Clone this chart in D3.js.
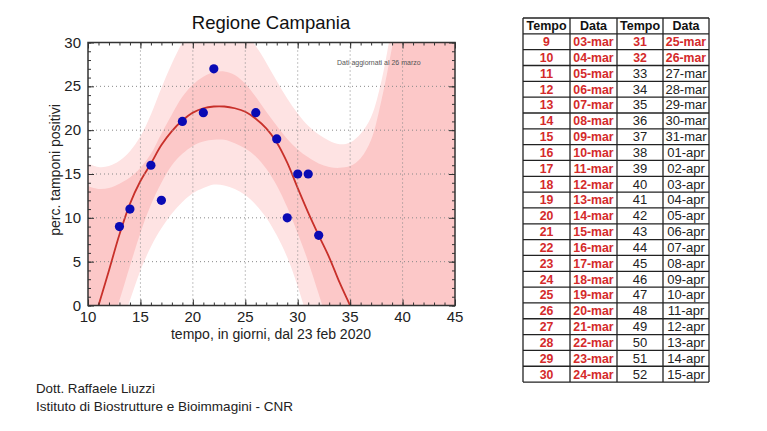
<!DOCTYPE html>
<html>
<head>
<meta charset="utf-8">
<script src="https://cdn.jsdelivr.net/npm/d3@7.9.0/dist/d3.min.js"></script>
<style>
  body { margin: 0; background: #fff; }
  svg { display: block; font-family: 'Liberation Sans', Arial, sans-serif; }
</style>
</head>
<body>
<div id="chart"></div>
<script>
// dati osservati
const giorni = [13, 14, 16, 17, 19, 21, 22, 26, 28, 29, 30, 31, 32];
const percPositivi = [9, 11, 16, 12, 21, 22, 27, 22, 19, 10, 15, 15, 8];

// curva di fit
const fitX = [11, 12, 13, 14, 15, 16, 17, 18, 19, 20, 21, 22, 23, 24, 25, 26, 27, 28, 29, 30, 31, 32, 33, 34, 35];
const fitY = [0, 4, 8.1, 11.6, 14.2, 16.2, 18.3, 19.9, 21.1, 22, 22.5, 22.7, 22.7, 22.5, 22.1, 21.3, 20.2, 18.6, 16.3, 13.4, 10.6, 8, 5.5, 2.6, 0];

// bande di confidenza
const bandX = d3.range(10, 46);
const outerUp = [16.2, 15.8, 15.9, 16.5, 17.6, 19.3, 21.8, 24.8, 27.6, 30, 31.8, 32.8, 33.1, 32.9, 32.2, 31, 29.6, 27.7, 25.6, 23.6, 21.9, 20.5, 19.5, 18.8, 18.4, 18.6, 19.6, 21.5, 25.7, 32, 38, 46, 55, 65, 76, 88];
const innerUp = [13.6, 13.3, 13.4, 13.9, 14.6, 15.7, 17.3, 19.6, 21.8, 23.8, 25.2, 26.1, 26.6, 26.7, 26.3, 25.3, 23.8, 22.1, 20.5, 19, 17.8, 16.9, 16.2, 15.8, 15.7, 15.9, 16.8, 18.9, 23.5, 29.5, 36, 43, 51, 60, 70, 81];
const innerLow = [-9, -6, -2.8, 0.6, 4.5, 8.3, 11.5, 14, 16, 17.3, 18.2, 18.7, 18.9, 18.9, 18.5, 17.9, 17, 15.6, 13.7, 11.2, 8.2, 5, 1.3, -2.5, -7, -12, -17, -23, -29, -35, -42, -49, -56, -64, -72, -80];
const outerLow = [-16, -11, -6.5, -2.8, 0.6, 4, 6.7, 8.8, 10.5, 11.8, 12.8, 13.4, 13.8, 13.7, 13.3, 12.6, 11.5, 10, 8, 5.5, 2.2, -1.8, -6, -11, -16, -22, -28, -34, -41, -48, -55, -63, -71, -79, -88, -97];

const xTicks = [10, 15, 20, 25, 30, 35, 40, 45];
const yTicks = [0, 5, 10, 15, 20, 25, 30];

// tabella
const tempoSx = [9, 10, 11, 12, 13, 14, 15, 16, 17, 18, 19, 20, 21, 22, 23, 24, 25, 26, 27, 28, 29, 30];
const dataSx = ['03-mar', '04-mar', '05-mar', '06-mar', '07-mar', '08-mar', '09-mar', '10-mar', '11-mar', '12-mar', '13-mar',
  '14-mar', '15-mar', '16-mar', '17-mar', '18-mar', '19-mar', '20-mar', '21-mar', '22-mar', '23-mar', '24-mar'];
const tempoDx = [31, 32, 33, 34, 35, 36, 37, 38, 39, 40, 41, 42, 43, 44, 45, 46, 47, 48, 49, 50, 51, 52];
const dataDx = ['25-mar', '26-mar', '27-mar', '28-mar', '29-mar', '30-mar', '31-mar', '01-apr', '02-apr', '03-apr', '04-apr',
  '05-apr', '06-apr', '07-apr', '08-apr', '09-apr', '10-apr', '11-apr', '12-apr', '13-apr', '14-apr', '15-apr'];
const ultimoGiorno = 32;

const width = 767, height = 431;
const plot = { left: 88, right: 455, top: 42.5, bottom: 305.5 };

const svg = d3.select('#chart').append('svg')
  .attr('width', width).attr('height', height);

svg.append('rect').attr('width', width).attr('height', height).attr('fill', '#fff');

const x = d3.scaleLinear().domain([10, 45]).range([plot.left, plot.right]);
const y = d3.scaleLinear().domain([0, 30]).range([plot.bottom, plot.top]);

svg.append('clipPath').attr('id', 'clip')
  .append('rect')
  .attr('x', plot.left).attr('y', plot.top)
  .attr('width', plot.right - plot.left).attr('height', plot.bottom - plot.top);

const g = svg.append('g').attr('clip-path', 'url(#clip)');

const area = (lo, hi) => d3.area()
  .x((d, i) => x(bandX[i]))
  .y0((d, i) => y(lo[i]))
  .y1((d, i) => y(hi[i]))
  .curve(d3.curveCatmullRom)(bandX);

g.append('path').attr('d', area(outerLow, outerUp)).attr('fill', '#fee3e3');
g.append('path').attr('d', area(innerLow, innerUp)).attr('fill', '#fcc8c8');

// griglia
const grid = svg.append('g').attr('stroke', '#888').attr('stroke-dasharray', '1,3').attr('stroke-width', 1);
grid.selectAll('.gx').data(xTicks.slice(1, -1)).join('line')
  .attr('x1', d => x(d)).attr('x2', d => x(d)).attr('y1', plot.top).attr('y2', plot.bottom);
grid.selectAll('.gy').data(yTicks.slice(1, -1)).join('line')
  .attr('y1', d => y(d)).attr('y2', d => y(d)).attr('x1', plot.left).attr('x2', plot.right);

// curva
g.append('path')
  .attr('d', d3.line().x((d, i) => x(fitX[i])).y(d => y(d)).curve(d3.curveCatmullRom)(fitY))
  .attr('fill', 'none').attr('stroke', '#c8302a').attr('stroke-width', 1.8);

// punti
svg.append('g').selectAll('circle').data(giorni).join('circle')
  .attr('cx', d => x(d)).attr('cy', (d, i) => y(percPositivi[i]))
  .attr('r', 4.6).attr('fill', '#0a0ab4');

// assi (tacche interne su tutti i lati)
const minorX = d3.range(10, 46);
const minorY = d3.range(0, 31);
const addAxis = (axis, transform, ticks, size) => svg.append('g')
  .attr('transform', transform)
  .call(axis.tickValues(ticks).tickSize(size).tickFormat(''))
  .call(s => s.select('.domain').remove())
  .call(s => s.selectAll('line').attr('stroke', '#333'));

addAxis(d3.axisBottom(x), `translate(0,${plot.bottom})`, minorX, -3);
addAxis(d3.axisBottom(x), `translate(0,${plot.bottom})`, xTicks, -6);
addAxis(d3.axisTop(x), `translate(0,${plot.top})`, minorX, -3);
addAxis(d3.axisTop(x), `translate(0,${plot.top})`, xTicks, -6);
addAxis(d3.axisLeft(y), `translate(${plot.left},0)`, minorY, -3);
addAxis(d3.axisLeft(y), `translate(${plot.left},0)`, yTicks, -6);
addAxis(d3.axisRight(y), `translate(${plot.right},0)`, minorY, -3);
addAxis(d3.axisRight(y), `translate(${plot.right},0)`, yTicks, -6);

svg.append('rect')
  .attr('x', plot.left).attr('y', plot.top)
  .attr('width', plot.right - plot.left).attr('height', plot.bottom - plot.top)
  .attr('fill', 'none').attr('stroke', '#333').attr('stroke-width', 1.5);

svg.append('g').selectAll('text').data(xTicks).join('text')
  .attr('x', d => x(d)).attr('y', 322)
  .attr('text-anchor', 'middle').attr('font-size', 15).attr('fill', '#222')
  .text(d => d);
svg.append('g').selectAll('text').data(yTicks).join('text')
  .attr('x', 81).attr('y', d => y(d) + 5)
  .attr('text-anchor', 'end').attr('font-size', 15).attr('fill', '#222')
  .text(d => d);

svg.append('text').attr('x', 271).attr('y', 29).attr('text-anchor', 'middle')
  .attr('font-size', 18.5).attr('fill', '#111').text('Regione Campania');
svg.append('text').attr('x', 271).attr('y', 339).attr('text-anchor', 'middle')
  .attr('font-size', 14).attr('fill', '#222').text('tempo, in giorni, dal 23 feb 2020');
svg.append('text').attr('transform', `translate(60,${(plot.top + plot.bottom) / 2 - 4}) rotate(-90)`)
  .attr('text-anchor', 'middle').attr('font-size', 14).attr('fill', '#222').text('perc. tamponi positivi');

svg.append('text').attr('x', 337).attr('y', 65).attr('font-size', 7).attr('fill', '#555')
  .text('Dati aggiornati al 26 marzo');

svg.append('text').attr('x', 36).attr('y', 393).attr('font-size', 13).attr('fill', '#222')
  .attr('textLength', 119).attr('lengthAdjust', 'spacingAndGlyphs')
  .text('Dott. Raffaele Liuzzi');
svg.append('text').attr('x', 36).attr('y', 411).attr('font-size', 13).attr('fill', '#222')
  .attr('textLength', 257).attr('lengthAdjust', 'spacingAndGlyphs')
  .text('Istituto di Biostrutture e Bioimmagini - CNR');

// tabella
const colX = [523, 570, 617, 663, 709];
const rowTop = 18, rowH = 15.83;
const tab = svg.append('g');
const righe = tempoSx.map((t, i) => [t, dataSx[i], tempoDx[i], dataDx[i]]);
const red = '#d42a2a';

tab.selectAll('.h').data(['Tempo', 'Data', 'Tempo', 'Data']).join('text')
  .attr('x', (d, i) => (colX[i] + colX[i + 1]) / 2).attr('y', rowTop + rowH - 3.5)
  .attr('text-anchor', 'middle').attr('font-size', 12.5).attr('font-weight', 'bold').attr('fill', '#111')
  .text(d => d);

righe.forEach((r, ri) => {
  r.forEach((v, ci) => {
    const isRed = ci < 2 || tempoDx[ri] <= ultimoGiorno;
    tab.append('text')
      .attr('x', (colX[ci] + colX[ci + 1]) / 2)
      .attr('y', rowTop + rowH * (ri + 2) - 3.5)
      .attr('text-anchor', 'middle').attr('font-size', isRed ? 12.3 : 13)
      .attr('font-weight', isRed ? 'bold' : 'normal')
      .attr('fill', isRed ? red : '#222')
      .text(v);
  });
});

const nRows = righe.length + 1;
tab.selectAll('.hl').data(d3.range(nRows + 1)).join('line')
  .attr('x1', colX[0]).attr('x2', colX[4])
  .attr('y1', d => rowTop + d * rowH).attr('y2', d => rowTop + d * rowH)
  .attr('stroke', '#222').attr('stroke-width', 1.3);
tab.selectAll('.vl').data(colX).join('line')
  .attr('x1', d => d).attr('x2', d => d)
  .attr('y1', rowTop).attr('y2', rowTop + nRows * rowH)
  .attr('stroke', '#222').attr('stroke-width', 1.3);
</script>
</body>
</html>
